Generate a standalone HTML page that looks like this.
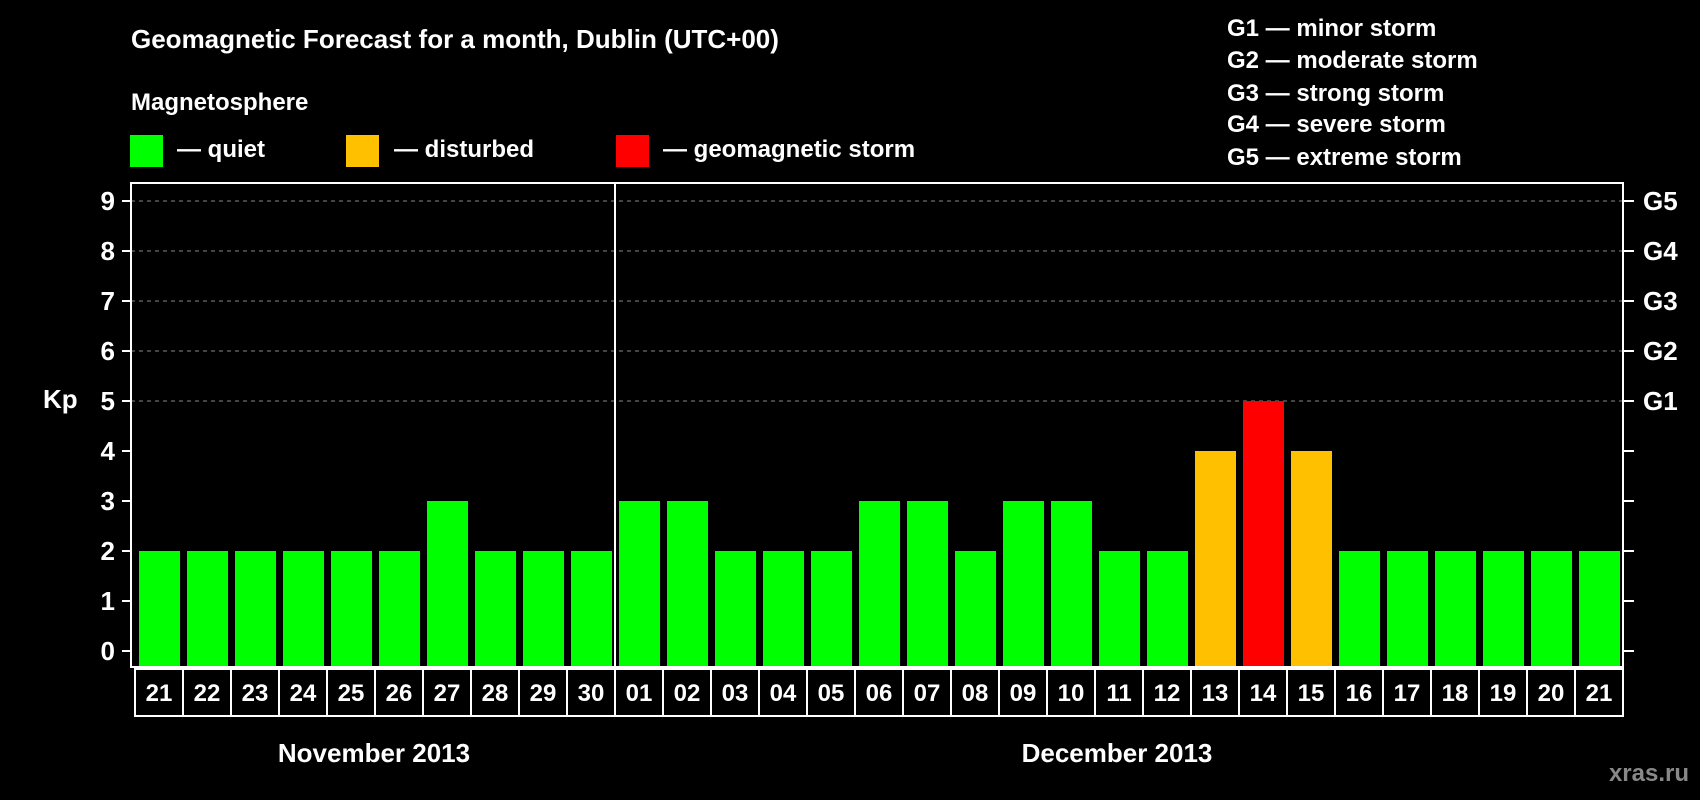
<!DOCTYPE html>
<html><head><meta charset="utf-8"><style>
html,body{margin:0;padding:0;background:#000;}
svg{display:block;font-family:"Liberation Sans",Arial,sans-serif;font-weight:bold;}
</style></head><body>
<svg id="chart" width="1700" height="800" viewBox="0 0 1700 800">
<text x="131" y="48" fill="#fff" font-size="26">Geomagnetic Forecast for a month, Dublin (UTC+00)</text>
<text x="131" y="110" fill="#fff" font-size="24">Magnetosphere</text>
<g><rect x="130" y="135" width="33" height="32" fill="#00ff00"/><text x="177" y="157" fill="#fff" font-size="24">— quiet</text></g>
<g><rect x="346" y="135" width="33" height="32" fill="#ffc000"/><text x="394" y="157" fill="#fff" font-size="24">— disturbed</text></g>
<g><rect x="616" y="135" width="33" height="32" fill="#ff0000"/><text x="663" y="157" fill="#fff" font-size="24">— geomagnetic storm</text></g>
<g fill="#fff" font-size="24">
<text x="1227" y="36">G1 — minor storm</text>
<text x="1227" y="68">G2 — moderate storm</text>
<text x="1227" y="101">G3 — strong storm</text>
<text x="1227" y="132">G4 — severe storm</text>
<text x="1227" y="165">G5 — extreme storm</text>
</g>
<g id="grid"></g>
<g id="bars"></g>
<rect x="131" y="183" width="1492" height="484" fill="none" stroke="#fff" stroke-width="2"/>
<line x1="615" y1="183" x2="615" y2="667" stroke="#fff" stroke-width="2"/>
<g id="axes"></g>
<text x="43" y="408" fill="#fff" font-size="26">Kp</text>
<text x="374" y="762" fill="#fff" font-size="26" text-anchor="middle">November 2013</text>
<text x="1117" y="762" fill="#fff" font-size="26" text-anchor="middle">December 2013</text>
<text x="1689" y="781" fill="#888" font-size="24" text-anchor="end">xras.ru</text>
</svg>
<script>
const days = ["21","22","23","24","25","26","27","28","29","30","01","02","03","04","05","06","07","08","09","10","11","12","13","14","15","16","17","18","19","20","21"];
const kpValues = [2,2,2,2,2,2,3,2,2,2,3,3,2,2,2,3,3,2,3,3,2,2,4,5,4,2,2,2,2,2,2];
const yTicks = [0,1,2,3,4,5,6,7,8,9];
const gLabels = ["G1","G2","G3","G4","G5"];
const gLevels = [5,6,7,8,9];

const NS="http://www.w3.org/2000/svg";
const x0=135, cell=48, y0=651, unit=50;
const xPos=i=>x0+i*cell;
const yPos=v=>y0-v*unit;
function mk(tag,attrs,parent){const e=document.createElementNS(NS,tag);for(const k in attrs)e.setAttribute(k,attrs[k]);parent.appendChild(e);return e;}
const grid=document.getElementById('grid'),bars=document.getElementById('bars'),axes=document.getElementById('axes');
gLevels.forEach(v=>{
  const l=mk('line',{x1:131,x2:1623,y1:yPos(v),y2:yPos(v),stroke:'#888','stroke-width':1,'stroke-dasharray':'4,4'},grid);
  
  
});
kpValues.forEach((v,i)=>{
  const c=v>=5?'#ff0000':(v>=4?'#ffc000':'#00ff00');
  const r=mk('rect',{x:xPos(i)+4,y:yPos(v),width:41,height:y0-yPos(v)+16,fill:c},bars);
  
  
});
yTicks.forEach(v=>{
  mk('line',{x1:122,x2:131,y1:yPos(v),y2:yPos(v),stroke:'#fff','stroke-width':2},axes);
  mk('line',{x1:1623,x2:1634,y1:yPos(v),y2:yPos(v),stroke:'#fff','stroke-width':2},axes);
  const t=mk('text',{x:115,y:yPos(v)+9,fill:'#fff','font-size':26,'text-anchor':'end'},axes);
  t.textContent=v;
  
  
});
gLabels.forEach((g,i)=>{
  const t=mk('text',{x:1643,y:yPos(gLevels[i])+9,fill:'#fff','font-size':26},axes);
  t.textContent=g;
  
  
});
days.forEach((d,i)=>{
  const r=mk('rect',{x:xPos(i),y:669,width:cell,height:47,fill:'none',stroke:'#fff','stroke-width':2},axes);
  
  
  const t=mk('text',{x:xPos(i)+cell/2,y:701,fill:'#fff','font-size':24,'text-anchor':'middle'},axes);
  t.textContent=d;
  
  
});
</script>
</body></html>
